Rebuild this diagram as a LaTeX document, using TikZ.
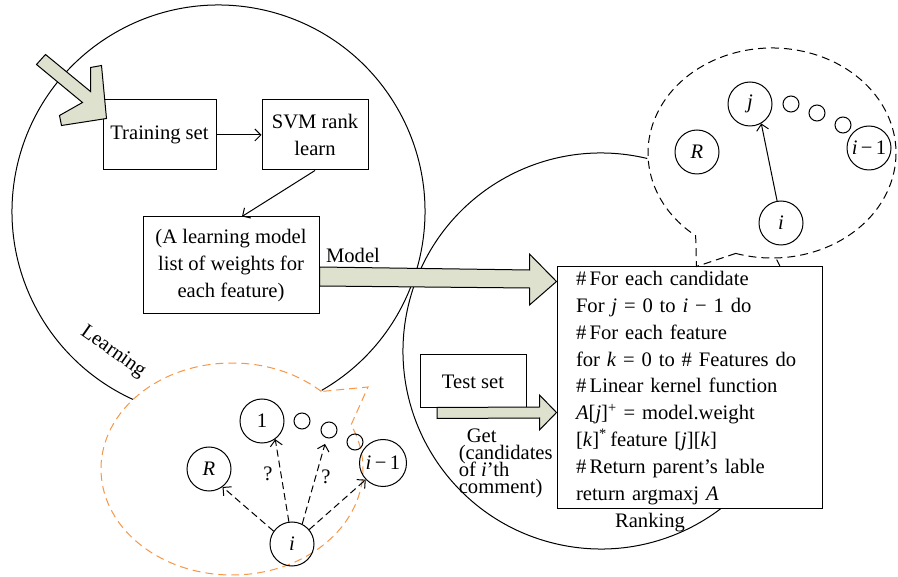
\documentclass[tikz,border=0pt]{standalone}
\usepackage{fontspec}
\setmainfont{Liberation Serif}
\usetikzlibrary{arrows.meta,calc}
\definecolor{blockfill}{RGB}{221,225,205}
\definecolor{bubbleorange}{RGB}{247,150,70}
\newcommand\myfs{\fontsize{20.6pt}{26.8pt}\selectfont}
\begin{document}
\begin{tikzpicture}[x=1pt,y=-1pt, line width=1pt,
  every node/.style={font=\myfs},
  box/.style={draw, fill=white, inner sep=0pt, align=center},
  circ/.style={draw, circle, minimum size=44pt, inner sep=0pt},
  circw/.style={draw, circle, minimum size=47pt, inner sep=0pt},
  dotc/.style={draw, circle, minimum size=16pt, inner sep=0pt},
  arr/.style={-{Straight Barb[length=6pt,width=12pt]}},
  darr/.style={arr, dash pattern=on 7pt off 4pt},
  blk/.style={draw, fill=blockfill, line join=miter},
  bubble/.style={dash pattern=on 8pt off 5pt}]
\useasboundingbox (0,0) rectangle (898,577);

% big circles (open arcs)
\draw (218.5,211.5) ++(60:206.5) arc[start angle=60, end angle=-245.5, radius=206.5];
\draw (601,351) ++(-76.5:198) arc[start angle=-76.5, end angle=-387.5, radius=198];

% boxes
\node[box, minimum width=113pt, minimum height=70pt] (train) at (159.5,135) {Training set};
\node[box, minimum width=106pt, minimum height=70pt] (svm) at (315,135) {SVM rank\\learn};
\node[box, minimum width=176pt, minimum height=97pt] (model) at (231,265.5) {(A learning model\\list of weights for\\each feature)};
\node[box, minimum width=106pt, minimum height=53pt] (test) at (473,381.5) {Test set};
\node[box, align=left, text width=227pt, inner xsep=19pt, minimum height=242pt] (code) at (689.5,388)
 {\#\,For each candidate\\
  For \textit{j} = 0 to \textit{i} − 1 do\\
  \#\,For each feature\\
  for \textit{k} = 0 to \# Features do\\
  \#\,Linear kernel function\\
  \textit{A}{[}\textit{j}{]}\textsuperscript{+} = model.weight\\
  {[}\textit{k}{]}\textsuperscript{*}\,feature {[}\textit{j}{]}{[}\textit{k}{]}\\
  \#\,Return parent’s lable\\
  return argmaxj \textit{A}};

% speech bubbles
\coordinate (otip) at (368,387);
\draw[bubble, draw=bubbleorange] (232,469) ++(-47:131 and 106)
  arc[start angle=-47, end angle=-384.6, x radius=131, y radius=106] -- (otip) -- cycle;
\coordinate (rtip) at ($(code.north west)+(140,0)$);
\draw[bubble] (772,153) ++(-253:124 and 105)
  arc[start angle=-253, end angle=-592, x radius=124, y radius=105] -- (rtip) -- cycle;

% labels
\node (modellbl) at (353,255) {Model};
\node[rotate=-35] (learnlbl) at (113,352) {Learning};
\node (ranklbl) at (650,523) {Ranking};
\node[align=left, anchor=west, font={\fontsize{20.6pt}{17pt}\selectfont\lineskiplimit=-50pt}] (getlbl) at (455,463)
  {\hspace*{8pt}Get\\(candidates\\of \textit{i}’th\\comment)};

% connectors between boxes
\draw[arr] (train) -- (svm);
\draw[arr] (svm.south) -- ([xshift=11pt]model.north);

% block arrows
\draw[blk] ($(train.north west)+(-57,-45)$) -- ($(train.north west)+(-12,-8)$)
  -- ($(train.north west)+(-12,-32)$) -- ($(train.north west)+(-1,-34)$)
  -- ($(train.north west)+(4,19)$) -- ($(train.north west)+(-41,26)$)
  -- ($(train.north west)+(-43,16)$) -- ($(train.north west)+(-20,3)$)
  -- ($(train.north west)+(-66,-35)$) -- cycle;
\coordinate (mA) at ($(model.east)+(0,11)$);
\coordinate (mB) at ($(code.north west)+(0,15)$);
\draw[blk] ($(mA)+(0,-9.5)$) -- ($(mB)+(-27,-11.5)$) -- ($(mB)+(-27,-27.5)$) -- (mB)
  -- ($(mB)+(-27,23.5)$) -- ($(mB)+(-27,6.5)$) -- ($(mA)+(0,9.5)$) -- cycle;
\coordinate (tA) at ($(test.south)+(-36,4.5)$);
\coordinate (tB) at ($(code.west)+(0,24.5)$);
\draw[blk] ($(tA)+(0,-5.5)$) -- ($(tB)+(-17,-5.5)$) -- ($(tB)+(-17,-17.5)$) -- (tB)
  -- ($(tB)+(-17,17.5)$) -- ($(tB)+(-17,5.5)$) -- ($(tA)+(0,5.5)$) -- cycle;

% lower-left bubble content
\node[circ] (bR) at (209,469) {\textit{R}};
\node[circ] (b1) at (262,421) {1};
\node[dotc] (bd1) at (302,421) {};
\node[dotc] (bd2) at (329,430) {};
\node[dotc] (bd3) at (355,442) {};
\node[circw] (bim) at (383,463) {\textit{i}\,−\,1};
\node[circ] (bi) at (292,544) {\textit{i}};
\draw[darr] (bi.145) -- (bR.-53);
\draw[darr] (bi.98) -- (b1.-54);
\draw[darr, shorten >=6pt] (bi.63) -- (bd2.-106);
\draw[darr] (bi.40) -- (bim.-136);
\node (q1) at (268,474) {?};
\node (q2) at (326,477) {?};

% upper-right bubble content
\node[circ] (rR) at (697,152) {\textit{R}};
\node[circ] (rj) at (750,104) {\textit{j}};
\node[dotc] (rd1) at (791,104) {};
\node[dotc] (rd2) at (817,113) {};
\node[dotc] (rd3) at (843,125) {};
\node[circ] (rim) at (869,148) {\textit{i}\,−\,1};
\node[circ] (ri) at (781,223) {\textit{i}};
\draw[arr] (ri.100) -- (rj.-60);
\end{tikzpicture}
\end{document}
